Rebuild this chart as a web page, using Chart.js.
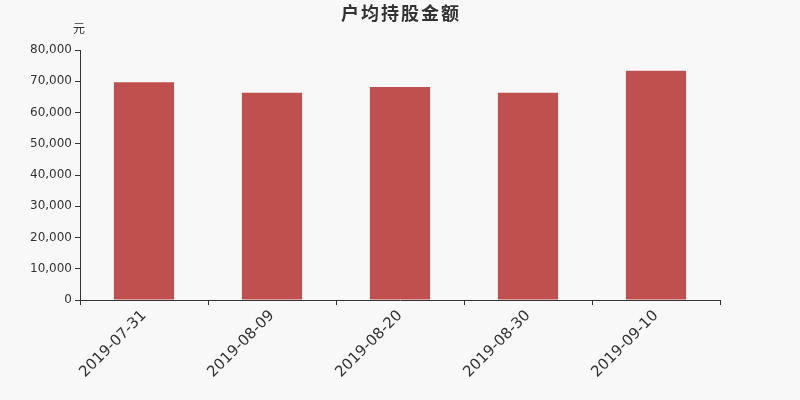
<!DOCTYPE html>
<html><head><meta charset="utf-8">
<script src="https://cdn.jsdelivr.net/npm/chart.js@4"></script>
<style>html,body{margin:0;padding:0;background:#f8f8f8;}#wrap{width:800px;height:400px;}</style>
</head><body><div id="wrap"><canvas id="c" width="800" height="400"></canvas></div>
<script>
const categories = ["2019-07-31","2019-08-09","2019-08-20","2019-08-30","2019-09-10"];
const values = [69700, 66300, 68150, 66300, 73400];
const yTicks = [0,10000,20000,30000,40000,50000,60000,70000,80000];
const titleText = "户均持股金额";
const unitText = "元";

const textPlugin = {
  id: 'txt',
  afterDraw(chart) {
    const ctx = chart.ctx;
    ctx.save();
    ctx.fillStyle = '#333';
    ctx.textAlign = 'center';
    ctx.textBaseline = 'middle';
    ctx.font = 'bold 18px "Noto Sans CJK SC", sans-serif';
    try { ctx.letterSpacing = '2px'; } catch(e) {}
    ctx.fillText(titleText, 401, 13);
    try { ctx.letterSpacing = '0px'; } catch(e) {}
    ctx.font = '12px "Noto Sans CJK SC", sans-serif';
    ctx.fillText(unitText, chart.chartArea.left - 1, 28);
    ctx.restore();
  }
};
const bg = {id:'bg', beforeDraw(c){const x=c.ctx;x.save();x.fillStyle='#f8f8f8';x.fillRect(0,0,c.width,c.height);x.restore();}};

new Chart(document.getElementById('c'), {
  type: 'bar',
  data: { labels: categories, datasets: [{ data: values, backgroundColor: '#c0504d', barPercentage: 0.47, categoryPercentage: 1 }] },
  options: {
    responsive: false, animation: false, devicePixelRatio: 1,
    layout: { padding: { top: 50, right: 80, left: 0, bottom: 0 } },
    plugins: { legend: { display: false }, tooltip: { enabled: false } },
    scales: {
      x: {
        offset: true,
        grid: { offset: true, drawOnChartArea: false, drawTicks: true, tickLength: 5, color: '#333' },
        border: { display: true, color: '#333', width: 1 },
        ticks: { color: '#333', font: { family: 'DejaVu Sans', size: 15 }, minRotation: 45, maxRotation: 45, padding: 2 },
        afterFit(s) { s.height = 100; }
      },
      y: {
        min: 0, max: 80000,
        afterBuildTicks(s) { s.ticks = yTicks.map(v => ({ value: v })); },
        grid: { drawOnChartArea: false, drawTicks: true, tickLength: 5, color: '#333' },
        border: { display: true, color: '#333', width: 1 },
        ticks: { color: '#333', font: { family: 'DejaVu Sans', size: 12 }, padding: 3,
          callback: v => v.toLocaleString('en-US') },
        afterFit(s) { s.width = 80; }
      }
    }
  },
  plugins: [bg, textPlugin]
});
</script></body></html>
